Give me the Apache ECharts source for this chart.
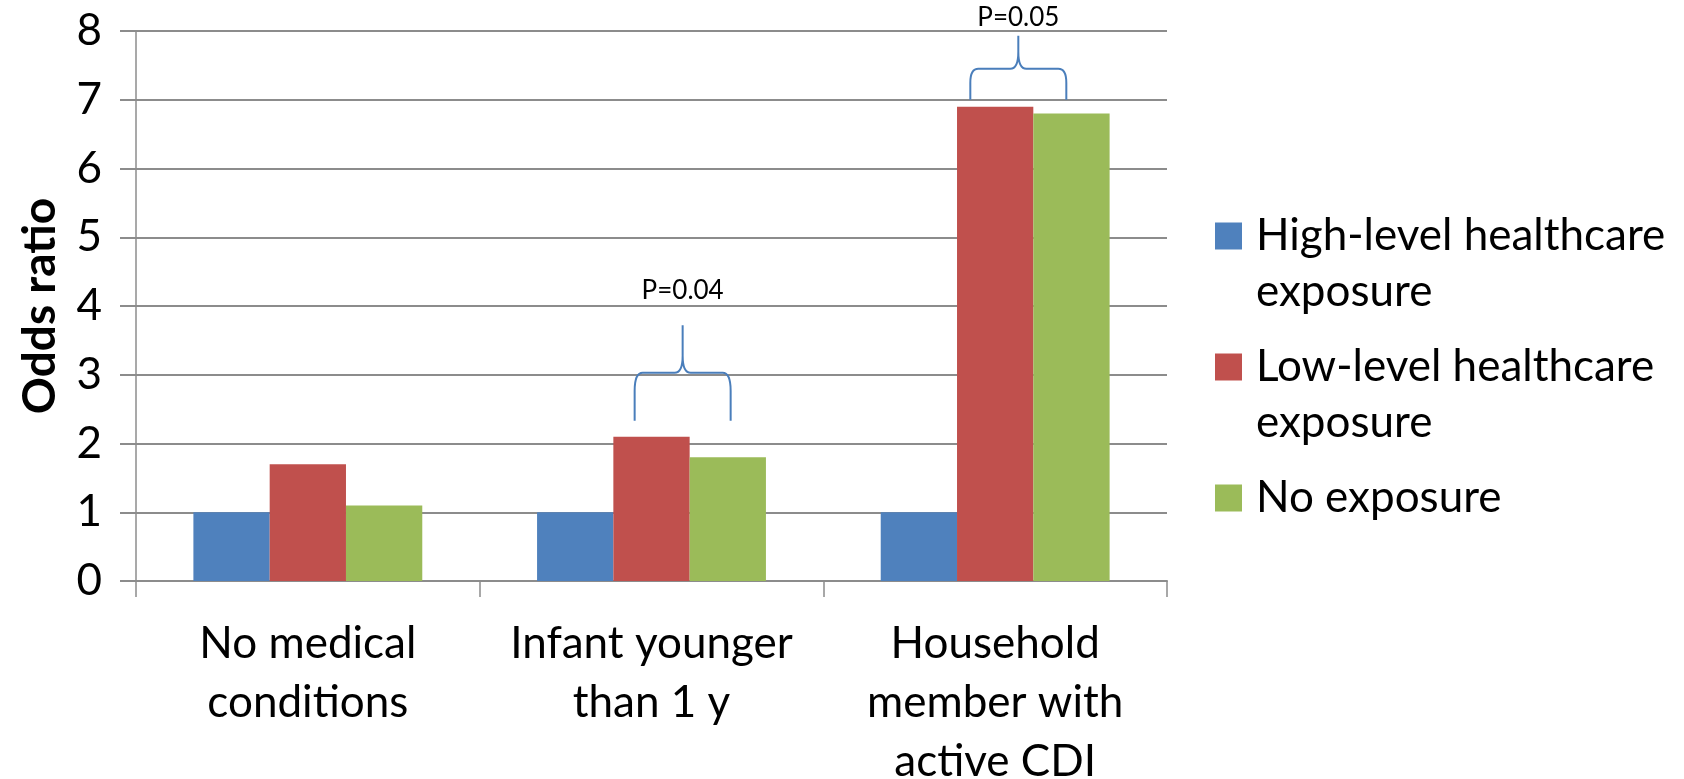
<!DOCTYPE html>
<html>
<head>
<meta charset="utf-8">
<script src="https://cdn.jsdelivr.net/npm/echarts@6/dist/echarts.min.js"></script>
<style>
  html, body { margin: 0; padding: 0; background: #ffffff; }
  #chart { width: 1684px; height: 779px; }
</style>
</head>
<body>
<div id="chart"></div>
<script>
// Categories and their wrapped axis labels
const categories = ['No medical conditions', 'Infant younger than 1 y', 'Household member with active CDI'];
const categoryLabels = ['No medical\nconditions', 'Infant younger\nthan 1 y', 'Household\nmember with\nactive CDI'];

// Series (odds ratios)
const seriesNames = ['High-level healthcare exposure', 'Low-level healthcare exposure', 'No exposure'];
const legendLines = [['High-level healthcare', 'exposure'], ['Low-level healthcare', 'exposure'], ['No exposure']];
const highLevel = [1, 1, 1];
const lowLevel = [1.7, 2.1, 6.9];
const noExposure = [1.1, 1.8, 6.8];

// Y axis range
const yMin = 0;
const yMax = 8;
const yStep = 1;

// Significance braces over the low-level / no-exposure pairs
const braceCategoryIndex = [1, 2];
const braceTexts = ['P=0.04', 'P=0.05'];
const braceFoot = [2.33, 7.0];
const braceArm = [3.03, 7.45];
const braceTip = [3.72, 7.93];
const braceTextAt = [4.23, 8.2];

const FONT = 'Lato, "Open Sans", sans-serif';
const colors = ['#4F81BD', '#C0504D', '#9BBB59'];
const values = [highLevel, lowLevel, noExposure];
const CAT_GAP = 0.334;
const BRACE_SHIFT = [-7, -15];

// Legend text: an empty line above and below keeps the first line level with the swatch
function legendText(name) {
  const lines = legendLines[seriesNames.indexOf(name)];
  return ['', lines[0], lines[1] || ''].join('\n');
}

const braceData = braceCategoryIndex.map((c, k) =>
  [c, braceFoot[k], braceArm[k], braceTip[k], braceTextAt[k], k]);

function renderBrace(params, api) {
  const ci = api.value(0);
  const k = api.value(5);
  const catW = api.size([1, 0])[0];
  const barW = catW * (1 - CAT_GAP) / 3;
  const center = api.coord([ci, 0])[0];
  const cx = center + barW / 2 + BRACE_SHIFT[k];
  const yb = api.coord([ci, api.value(1)])[1];
  const yh = api.coord([ci, api.value(2)])[1];
  const yp = api.coord([ci, api.value(3)])[1];
  const yt = api.coord([ci, api.value(4)])[1];
  const halfW = 48, r = 8;
  const arc = Math.min(18, (yb - yh) * 0.45);
  const xl = cx - halfW, xr = cx + halfW;
  const d =
    `M${xl},${yb} L${xl},${yh + arc} Q${xl},${yh} ${xl + r},${yh} L${cx - 8},${yh} Q${cx},${yh} ${cx},${yh - 17} L${cx},${yp} ` +
    `M${xr},${yb} L${xr},${yh + arc} Q${xr},${yh} ${xr - r},${yh} L${cx + 8},${yh} Q${cx},${yh} ${cx},${yh - 17}`;
  return {
    type: 'group',
    children: [
      {
        type: 'path',
        shape: { pathData: d },
        style: { fill: 'none', stroke: '#4A7EBB', lineWidth: 2 }
      },
      {
        type: 'text',
        x: cx, y: yt,
        style: {
          text: braceTexts[k], fontFamily: FONT, fontSize: 26, fill: '#000000',
          align: 'center', verticalAlign: 'middle'
        }
      }
    ]
  };
}

const chart = echarts.init(document.getElementById('chart'), null, { renderer: 'canvas' });

const option = {
  animation: false,
  backgroundColor: '#ffffff',
  textStyle: { fontFamily: FONT },
  grid: {
    left: 136, right: 517, top: 31, bottom: 198,
    containLabel: false,
    outerBoundsMode: 'none'
  },
  legend: {
    orient: 'vertical',
    left: 1215,
    top: 152,
    padding: 0,
    itemWidth: 27,
    itemHeight: 27,
    itemGap: -37,
    icon: 'rect',
    selectedMode: false,
    data: seriesNames,
    formatter: legendText,
    textStyle: {
      fontFamily: FONT, fontSize: 44, color: '#000000', lineHeight: 56,
      padding: [0, 0, 0, 9]
    }
  },
  xAxis: {
    type: 'category',
    data: categories,
    axisLine: { show: true, lineStyle: { color: '#8c8c8c', width: 2 } },
    axisTick: { show: true, length: 16, lineStyle: { color: '#8c8c8c', width: 1.5 } },
    axisLabel: {
      margin: 33,
      fontFamily: FONT, fontSize: 44, color: '#000000', lineHeight: 59,
      interval: 0,
      formatter: (v, i) => categoryLabels[i]
    },
    splitLine: { show: false }
  },
  yAxis: {
    type: 'value',
    min: yMin, max: yMax, interval: yStep,
    name: 'Odds ratio',
    nameLocation: 'middle',
    nameGap: 73,
    nameTextStyle: { fontFamily: FONT, fontSize: 46, fontWeight: 'bold', color: '#000000' },
    axisLine: { show: true, lineStyle: { color: '#8c8c8c', width: 1.5 } },
    axisTick: { show: true, length: 16, lineStyle: { color: '#8c8c8c', width: 2 } },
    axisLabel: { margin: 34, fontFamily: FONT, fontSize: 44, color: '#000000' },
    splitLine: { show: true, lineStyle: { color: '#8c8c8c', width: 2 } }
  },
  series: seriesNames.map((n, i) => ({
    name: n,
    type: 'bar',
    data: values[i],
    barGap: '0%',
    barCategoryGap: (CAT_GAP * 100) + '%',
    itemStyle: { color: colors[i] },
    z: 3
  })).concat([{
    type: 'custom',
    name: 'braces',
    data: braceData,
    encode: { x: 0, y: 1 },
    renderItem: renderBrace,
    clip: false,
    silent: true,
    z: 10
  }])
};

chart.setOption(option);
</script>
</body>
</html>
